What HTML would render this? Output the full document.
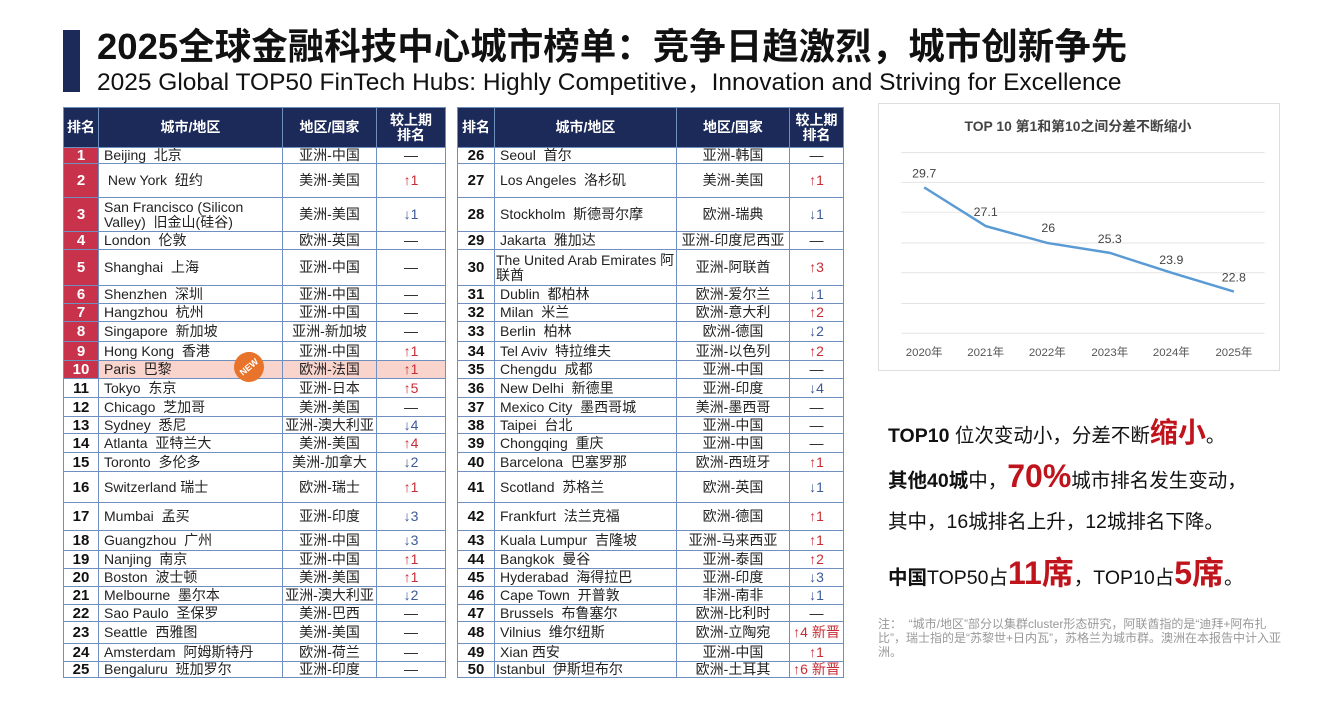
<!DOCTYPE html>
<html><head><meta charset="utf-8"><style>
*{margin:0;padding:0;box-sizing:border-box}
body{width:1331px;height:711px;background:#fff;position:relative;overflow:hidden;font-family:"Liberation Sans","Noto Sans CJK SC",sans-serif;color:#222}
.bar{position:absolute;left:63px;top:30px;width:17px;height:62px;background:#1c2a5a}
.t1{position:absolute;left:97px;top:25px;font-size:36.5px;font-weight:bold;color:#111;white-space:nowrap;line-height:44px}
.t2{position:absolute;left:97px;top:68px;font-size:24.5px;color:#111;white-space:nowrap;line-height:30px}
table{position:absolute;top:107px;border-collapse:collapse;table-layout:fixed;font-size:14px}
td,th{border:1px solid #6f8fbf;overflow:hidden;white-space:nowrap;line-height:15px;padding:0}
th{background:#1c2a5a;color:#fff;font-size:14px;height:40px;font-weight:bold;text-align:center}
td.r{text-align:center;font-weight:bold;font-size:15px;color:#111}
td.rr{background:#c8334b;color:#fff}
td.c{padding-left:5px;text-align:left}
td.g{text-align:center}
td.x{text-align:center;color:#c82d35}
td.d{color:#3d5a98}
td.n{color:#222}
tr.p td{background:#f9d4cc}
tr.p td.rr{background:#c8334b}
.wrap{white-space:normal;line-height:15px}
.badge{position:absolute;left:234px;top:352px;width:30px;height:30px;border-radius:50%;background:#e8742c;color:#fff;font-size:9px;font-weight:bold;display:flex;align-items:center;justify-content:center;transform:rotate(-40deg)}
.chart{position:absolute;left:878px;top:103px;width:402px;height:268px;border:1px solid #ddd}
.txt{position:absolute;left:888px;white-space:nowrap;color:#111;font-size:19.5px}
.red{color:#c0141c;font-weight:bold}
.note{position:absolute;left:878px;top:617px;width:415px;font-size:12px;color:#999;line-height:14px}
</style></head><body>
<div class="bar"></div>
<div class="t1">2025全球金融科技中心城市榜单：竞争日趋激烈，城市创新争先</div>
<div class="t2">2025 Global TOP50 FinTech Hubs: Highly Competitive，Innovation and Striving for Excellence</div>

<table style="left:63px;width:382px">
<colgroup><col style="width:35px"><col style="width:184px"><col style="width:94px"><col style="width:69px"></colgroup>
<tr><th>排名</th><th>城市/地区</th><th>地区/国家</th><th>较上期<br>排名</th></tr>
<tr style="height:16px"><td class="r rr">1</td><td class="c">Beijing &nbsp;北京</td><td class="g">亚洲-中国</td><td class="x n">—</td></tr>
<tr style="height:34px"><td class="r rr">2</td><td class="c">&nbsp;New York &nbsp;纽约</td><td class="g">美洲-美国</td><td class="x">↑1</td></tr>
<tr style="height:34px"><td class="r rr">3</td><td class="c wrap">San Francisco (Silicon Valley) &nbsp;旧金山(硅谷)</td><td class="g">美洲-美国</td><td class="x d">↓1</td></tr>
<tr style="height:18px"><td class="r rr">4</td><td class="c">London &nbsp;伦敦</td><td class="g">欧洲-英国</td><td class="x n">—</td></tr>
<tr style="height:36px"><td class="r rr">5</td><td class="c">Shanghai &nbsp;上海</td><td class="g">亚洲-中国</td><td class="x n">—</td></tr>
<tr style="height:18px"><td class="r rr">6</td><td class="c">Shenzhen &nbsp;深圳</td><td class="g">亚洲-中国</td><td class="x n">—</td></tr>
<tr style="height:18px"><td class="r rr">7</td><td class="c">Hangzhou &nbsp;杭州</td><td class="g">亚洲-中国</td><td class="x n">—</td></tr>
<tr style="height:20px"><td class="r rr">8</td><td class="c">Singapore &nbsp;新加坡</td><td class="g">亚洲-新加坡</td><td class="x n">—</td></tr>
<tr style="height:19px"><td class="r rr">9</td><td class="c">Hong Kong &nbsp;香港</td><td class="g">亚洲-中国</td><td class="x">↑1</td></tr>
<tr class="p" style="height:18px"><td class="r rr">10</td><td class="c">Paris &nbsp;巴黎</td><td class="g">欧洲-法国</td><td class="x">↑1</td></tr>
<tr style="height:19px"><td class="r">11</td><td class="c">Tokyo &nbsp;东京</td><td class="g">亚洲-日本</td><td class="x">↑5</td></tr>
<tr style="height:19px"><td class="r">12</td><td class="c">Chicago &nbsp;芝加哥</td><td class="g">美洲-美国</td><td class="x n">—</td></tr>
<tr style="height:17px"><td class="r">13</td><td class="c">Sydney &nbsp;悉尼</td><td class="g">亚洲-澳大利亚</td><td class="x d">↓4</td></tr>
<tr style="height:19px"><td class="r">14</td><td class="c">Atlanta &nbsp;亚特兰大</td><td class="g">美洲-美国</td><td class="x">↑4</td></tr>
<tr style="height:19px"><td class="r">15</td><td class="c">Toronto &nbsp;多伦多</td><td class="g">美洲-加拿大</td><td class="x d">↓2</td></tr>
<tr style="height:31px"><td class="r">16</td><td class="c">Switzerland 瑞士</td><td class="g">欧洲-瑞士</td><td class="x">↑1</td></tr>
<tr style="height:28px"><td class="r">17</td><td class="c">Mumbai &nbsp;孟买</td><td class="g">亚洲-印度</td><td class="x d">↓3</td></tr>
<tr style="height:20px"><td class="r">18</td><td class="c">Guangzhou &nbsp;广州</td><td class="g">亚洲-中国</td><td class="x d">↓3</td></tr>
<tr style="height:18px"><td class="r">19</td><td class="c">Nanjing &nbsp;南京</td><td class="g">亚洲-中国</td><td class="x">↑1</td></tr>
<tr style="height:18px"><td class="r">20</td><td class="c">Boston &nbsp;波士顿</td><td class="g">美洲-美国</td><td class="x">↑1</td></tr>
<tr style="height:18px"><td class="r">21</td><td class="c">Melbourne &nbsp;墨尔本</td><td class="g">亚洲-澳大利亚</td><td class="x d">↓2</td></tr>
<tr style="height:17px"><td class="r">22</td><td class="c">Sao Paulo &nbsp;圣保罗</td><td class="g">美洲-巴西</td><td class="x n">—</td></tr>
<tr style="height:22px"><td class="r">23</td><td class="c">Seattle &nbsp;西雅图</td><td class="g">美洲-美国</td><td class="x n">—</td></tr>
<tr style="height:18px"><td class="r">24</td><td class="c">Amsterdam &nbsp;阿姆斯特丹</td><td class="g">欧洲-荷兰</td><td class="x n">—</td></tr>
<tr style="height:16px"><td class="r">25</td><td class="c">Bengaluru &nbsp;班加罗尔</td><td class="g">亚洲-印度</td><td class="x n">—</td></tr>
</table>
<div class="badge">NEW</div>

<table style="left:457px;width:386px">
<colgroup><col style="width:37px"><col style="width:182px"><col style="width:113px"><col style="width:54px"></colgroup>
<tr><th>排名</th><th>城市/地区</th><th>地区/国家</th><th>较上期<br>排名</th></tr>
<tr style="height:16px"><td class="r">26</td><td class="c">Seoul &nbsp;首尔</td><td class="g">亚洲-韩国</td><td class="x n">—</td></tr>
<tr style="height:34px"><td class="r">27</td><td class="c">Los Angeles &nbsp;洛杉矶</td><td class="g">美洲-美国</td><td class="x">↑1</td></tr>
<tr style="height:34px"><td class="r">28</td><td class="c">Stockholm &nbsp;斯德哥尔摩</td><td class="g">欧洲-瑞典</td><td class="x d">↓1</td></tr>
<tr style="height:18px"><td class="r">29</td><td class="c">Jakarta &nbsp;雅加达</td><td class="g">亚洲-印度尼西亚</td><td class="x n">—</td></tr>
<tr style="height:36px"><td class="r">30</td><td class="c wrap" style="padding-left:1px">The United Arab Emirates 阿联酋</td><td class="g">亚洲-阿联酋</td><td class="x">↑3</td></tr>
<tr style="height:18px"><td class="r">31</td><td class="c">Dublin &nbsp;都柏林</td><td class="g">欧洲-爱尔兰</td><td class="x d">↓1</td></tr>
<tr style="height:18px"><td class="r">32</td><td class="c">Milan &nbsp;米兰</td><td class="g">欧洲-意大利</td><td class="x">↑2</td></tr>
<tr style="height:20px"><td class="r">33</td><td class="c">Berlin &nbsp;柏林</td><td class="g">欧洲-德国</td><td class="x d">↓2</td></tr>
<tr style="height:19px"><td class="r">34</td><td class="c">Tel Aviv &nbsp;特拉维夫</td><td class="g">亚洲-以色列</td><td class="x">↑2</td></tr>
<tr style="height:18px"><td class="r">35</td><td class="c">Chengdu &nbsp;成都</td><td class="g">亚洲-中国</td><td class="x n">—</td></tr>
<tr style="height:19px"><td class="r">36</td><td class="c">New Delhi &nbsp;新德里</td><td class="g">亚洲-印度</td><td class="x d">↓4</td></tr>
<tr style="height:19px"><td class="r">37</td><td class="c">Mexico City &nbsp;墨西哥城</td><td class="g">美洲-墨西哥</td><td class="x n">—</td></tr>
<tr style="height:17px"><td class="r">38</td><td class="c">Taipei &nbsp;台北</td><td class="g">亚洲-中国</td><td class="x n">—</td></tr>
<tr style="height:19px"><td class="r">39</td><td class="c">Chongqing &nbsp;重庆</td><td class="g">亚洲-中国</td><td class="x n">—</td></tr>
<tr style="height:19px"><td class="r">40</td><td class="c">Barcelona &nbsp;巴塞罗那</td><td class="g">欧洲-西班牙</td><td class="x">↑1</td></tr>
<tr style="height:31px"><td class="r">41</td><td class="c">Scotland &nbsp;苏格兰</td><td class="g">欧洲-英国</td><td class="x d">↓1</td></tr>
<tr style="height:28px"><td class="r">42</td><td class="c">Frankfurt &nbsp;法兰克福</td><td class="g">欧洲-德国</td><td class="x">↑1</td></tr>
<tr style="height:20px"><td class="r">43</td><td class="c">Kuala Lumpur &nbsp;吉隆坡</td><td class="g">亚洲-马来西亚</td><td class="x">↑1</td></tr>
<tr style="height:18px"><td class="r">44</td><td class="c">Bangkok &nbsp;曼谷</td><td class="g">亚洲-泰国</td><td class="x">↑2</td></tr>
<tr style="height:18px"><td class="r">45</td><td class="c">Hyderabad &nbsp;海得拉巴</td><td class="g">亚洲-印度</td><td class="x d">↓3</td></tr>
<tr style="height:18px"><td class="r">46</td><td class="c">Cape Town &nbsp;开普敦</td><td class="g">非洲-南非</td><td class="x d">↓1</td></tr>
<tr style="height:17px"><td class="r">47</td><td class="c">Brussels &nbsp;布鲁塞尔</td><td class="g">欧洲-比利时</td><td class="x n">—</td></tr>
<tr style="height:22px"><td class="r">48</td><td class="c">Vilnius &nbsp;维尔纽斯</td><td class="g">欧洲-立陶宛</td><td class="x">↑4 新晋</td></tr>
<tr style="height:18px"><td class="r">49</td><td class="c">Xian 西安</td><td class="g">亚洲-中国</td><td class="x">↑1</td></tr>
<tr style="height:16px"><td class="r">50</td><td class="c" style="padding-left:1px">Istanbul &nbsp;伊斯坦布尔</td><td class="g">欧洲-土耳其</td><td class="x">↑6 新晋</td></tr>
</table>

<svg class="chart" viewBox="878 103 402 268" width="402" height="268" style="position:absolute;left:878px;top:103px">
<g stroke="#e3e3e3" stroke-width="1">
<line x1="900" x2="1266" y1="152" y2="152"/><line x1="900" x2="1266" y1="182" y2="182"/>
<line x1="900" x2="1266" y1="212" y2="212"/><line x1="900" x2="1266" y1="243" y2="243"/>
<line x1="900" x2="1266" y1="273" y2="273"/><line x1="900" x2="1266" y1="304" y2="304"/>
<line x1="900" x2="1266" y1="334" y2="334"/></g>
<text x="1078" y="130" text-anchor="middle" font-size="14" font-weight="bold" fill="#444" font-family="Liberation Sans, Noto Sans CJK SC, sans-serif">TOP 10 第1和第10之间分差不断缩小</text>
<polyline fill="none" stroke="#5b9bd5" stroke-width="2.5" points="923,187 985,226 1047,243 1110,253 1172,273 1235,292"/>
<g font-size="12.5" fill="#444" text-anchor="middle" font-family="Liberation Sans, sans-serif">
<text x="923" y="177">29.7</text><text x="985" y="216">27.1</text><text x="1048" y="232">26</text>
<text x="1110" y="243">25.3</text><text x="1172" y="264">23.9</text><text x="1235" y="282">22.8</text></g>
<g font-size="11.5" fill="#555" text-anchor="middle" font-family="Liberation Sans, Noto Sans CJK SC, sans-serif">
<text x="923" y="357">2020年</text><text x="985" y="357">2021年</text><text x="1047" y="357">2022年</text>
<text x="1110" y="357">2023年</text><text x="1172" y="357">2024年</text><text x="1235" y="357">2025年</text></g>
</svg>

<div class="txt" style="top:411px"><b>TOP10</b> 位次变动小，分差不断<span class="red" style="font-size:28px">缩小</span>。</div>
<div class="txt" style="top:458px"><b>其他40城</b>中，<span class="red" style="font-size:32px">70%</span>城市排名发生变动，</div>
<div class="txt" style="top:505px">其中，16城排名上升，12城排名下降。</div>
<div class="txt" style="top:548px"><b>中国</b>TOP50占<span class="red" style="font-size:32px">11席</span>，TOP10占<span class="red" style="font-size:32px">5席</span>。</div>
<div class="note">注：&nbsp;&nbsp;“城市/地区”部分以集群cluster形态研究，阿联酋指的是“迪拜+阿布扎比”，瑞士指的是“苏黎世+日内瓦”，苏格兰为城市群。澳洲在本报告中计入亚洲。</div>
</body></html>
